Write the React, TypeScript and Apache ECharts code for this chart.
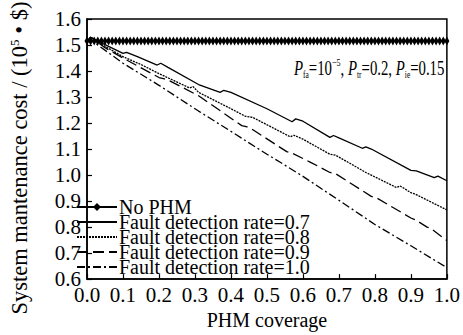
import React, { useEffect, useRef } from "react";
import * as echarts from "echarts";

const SERIES_NAMES = [
  "No PHM",
  "Fault detection rate=0.7",
  "Fault detection rate=0.8",
  "Fault detection rate=0.9",
  "Fault detection rate=1.0",
];

// No PHM: coverage points (every 0.01) and cost values
const NO_PHM_COVERAGE = [
  0.0, 0.01, 0.02, 0.03, 0.04, 0.05, 0.06, 0.07, 0.08, 0.09,
  0.1, 0.11, 0.12, 0.13, 0.14, 0.15, 0.16, 0.17, 0.18, 0.19,
  0.2, 0.21, 0.22, 0.23, 0.24, 0.25, 0.26, 0.27, 0.28, 0.29,
  0.3, 0.31, 0.32, 0.33, 0.34, 0.35, 0.36, 0.37, 0.38, 0.39,
  0.4, 0.41, 0.42, 0.43, 0.44, 0.45, 0.46, 0.47, 0.48, 0.49,
  0.5, 0.51, 0.52, 0.53, 0.54, 0.55, 0.56, 0.57, 0.58, 0.59,
  0.6, 0.61, 0.62, 0.63, 0.64, 0.65, 0.66, 0.67, 0.68, 0.69,
  0.7, 0.71, 0.72, 0.73, 0.74, 0.75, 0.76, 0.77, 0.78, 0.79,
  0.8, 0.81, 0.82, 0.83, 0.84, 0.85, 0.86, 0.87, 0.88, 0.89,
  0.9, 0.91, 0.92, 0.93, 0.94, 0.95, 0.96, 0.97, 0.98, 0.99,
  1.0,
];
const NO_PHM_COST = [
  1.515, 1.515, 1.515, 1.515, 1.515, 1.515, 1.515, 1.515, 1.515, 1.515,
  1.515, 1.515, 1.515, 1.515, 1.515, 1.515, 1.515, 1.515, 1.515, 1.515,
  1.515, 1.515, 1.515, 1.515, 1.515, 1.515, 1.515, 1.515, 1.515, 1.515,
  1.515, 1.515, 1.515, 1.515, 1.515, 1.515, 1.515, 1.515, 1.515, 1.515,
  1.515, 1.515, 1.515, 1.515, 1.515, 1.515, 1.515, 1.515, 1.515, 1.515,
  1.515, 1.515, 1.515, 1.515, 1.515, 1.515, 1.515, 1.515, 1.515, 1.515,
  1.515, 1.515, 1.515, 1.515, 1.515, 1.515, 1.515, 1.515, 1.515, 1.515,
  1.515, 1.515, 1.515, 1.515, 1.515, 1.515, 1.515, 1.515, 1.515, 1.515,
  1.515, 1.515, 1.515, 1.515, 1.515, 1.515, 1.515, 1.515, 1.515, 1.515,
  1.515, 1.515, 1.515, 1.515, 1.515, 1.515, 1.515, 1.515, 1.515, 1.515,
  1.515,
];

// [coverage, cost]
const RATE_07 = [
  [0, 1.515], [0.01, 1.53], [0.06, 1.495], [0.1, 1.468], [0.11, 1.472],
  [0.14, 1.455], [0.195, 1.423], [0.205, 1.43], [0.225, 1.414], [0.31, 1.348],
  [0.37, 1.318], [0.38, 1.326], [0.4, 1.318], [0.5, 1.255], [0.57, 1.205],
  [0.58, 1.216], [0.6, 1.207], [0.675, 1.145], [0.685, 1.152], [0.7, 1.143],
  [0.765, 1.103], [0.775, 1.108], [0.79, 1.1], [0.9, 1.018], [0.915, 1.016],
  [0.965, 0.99], [0.975, 0.996], [1.0, 0.978],
];
const RATE_08 = [
  [0, 1.515], [0.01, 1.53], [0.05, 1.495], [0.1, 1.455], [0.15, 1.425],
  [0.2, 1.39], [0.285, 1.335], [0.295, 1.34], [0.31, 1.318], [0.4, 1.255],
  [0.44, 1.226], [0.46, 1.222], [0.565, 1.147], [0.575, 1.153], [0.6, 1.138],
  [0.675, 1.08], [0.69, 1.077], [0.775, 1.01], [0.86, 0.952], [0.87, 0.958],
  [0.88, 0.95], [0.9, 0.932], [0.91, 0.928], [1.0, 0.866],
];
const RATE_09 = [
  [0, 1.515], [0.01, 1.53], [0.05, 1.49], [0.1, 1.45], [0.2, 1.375],
  [0.215, 1.37], [0.23, 1.362], [0.31, 1.305], [0.43, 1.19], [0.445, 1.185],
  [0.46, 1.175], [0.555, 1.09], [0.57, 1.084], [0.62, 1.05], [0.675, 1.01],
  [0.69, 1.006], [0.79, 0.918], [0.805, 0.912], [0.9, 0.835], [0.915, 0.826],
  [0.945, 0.8], [0.955, 0.795], [1.0, 0.748],
];
const RATE_10 = [
  [0, 1.515], [0.01, 1.52], [0.1, 1.43], [0.2, 1.345], [0.31, 1.246],
  [0.4, 1.168], [0.5, 1.08], [0.537, 1.049], [0.6, 0.995], [0.7, 0.903],
  [0.8, 0.81], [0.9, 0.728], [1.0, 0.644],
];

const FONT = "Liberation Serif";

export default function App() {
  const ref = useRef<HTMLDivElement>(null);
  useEffect(() => {
    if (!ref.current) return;
    const chart = echarts.init(ref.current, undefined, { renderer: "svg" });
    const noPhm = NO_PHM_COVERAGE.map((c, i) => [c, NO_PHM_COST[i]]);
    const lineBase = { type: "line", symbol: "none", showSymbol: false, silent: true };
    const hiddenMark = { color: "rgba(0,0,0,0)", borderWidth: 0, opacity: 0 };
    chart.setOption({
      animation: false,
      backgroundColor: "#fff",
      textStyle: { fontFamily: FONT },
      grid: {
        left: 73, right: 11, top: 19, bottom: 45,
        show: true, borderColor: "#000", borderWidth: 1.5,
      },
      legend: {
        orient: "vertical",
        left: 76,
        top: 197,
        padding: 0,
        itemGap: -5,
        itemWidth: 40,
        itemHeight: 10,
        data: [
          { name: SERIES_NAMES[0] },
          { name: SERIES_NAMES[1], itemStyle: hiddenMark },
          { name: SERIES_NAMES[2], itemStyle: hiddenMark },
          { name: SERIES_NAMES[3], itemStyle: hiddenMark },
          { name: SERIES_NAMES[4], itemStyle: hiddenMark },
        ],
        textStyle: {
          fontFamily: FONT, fontSize: 20, color: "#000",
          padding: [0, 0, 0, -3],
        },
      },
      xAxis: {
        type: "value", min: 0, max: 1, interval: 0.1,
        name: "PHM coverage", nameLocation: "middle", nameGap: 22,
        nameTextStyle: { fontFamily: FONT, fontSize: 20, color: "#000" },
        axisLine: { lineStyle: { color: "#000", width: 1.5 } },
        axisTick: { inside: true, length: 5, lineStyle: { color: "#000", width: 1.2 } },
        axisLabel: {
          fontFamily: FONT, fontSize: 21, color: "#000", margin: 5,
          formatter: (v: number) => v.toFixed(1),
        },
        splitLine: { show: false },
      },
      yAxis: {
        type: "value", min: 0.6, max: 1.6, interval: 0.1,
        name: "System mantenance cost / (10{sup|5} • $)",
        nameLocation: "middle", nameGap: 56, nameRotate: 90,
        nameTextStyle: {
          fontFamily: FONT, fontSize: 22.5, color: "#000",
          padding: [0, 18, 0, 0],
          rich: { sup: { fontFamily: FONT, fontSize: 13, color: "#000", verticalAlign: "top", padding: [0, 0, 7, 0] } },
        },
        axisLine: { show: true, lineStyle: { color: "#000", width: 1.5 } },
        axisTick: { show: true, inside: true, length: 5, lineStyle: { color: "#000", width: 1.2 } },
        axisLabel: {
          fontFamily: FONT, fontSize: 21, color: "#000", margin: 6,
          formatter: (v: number) => v.toFixed(1),
        },
        splitLine: { show: false },
      },
      graphic: [
        {
          type: "text",
          x: 294,
          y: 57,
          scaleX: 0.74,
          style: {
            text: "{p|P}{sub|fa}{n|=10}{sup|−5}{n|, }{p|P}{sub|tr}{n|=0.2, }{p|P}{sub|ie}{n|=0.15}",
            rich: {
              p: { fontFamily: FONT, fontSize: 20, fontStyle: "italic", fill: "#000", lineHeight: 23 },
              n: { fontFamily: FONT, fontSize: 20, fill: "#000", lineHeight: 23 },
              sub: { fontFamily: FONT, fontSize: 10, fill: "#000", verticalAlign: "bottom", lineHeight: 23 },
              sup: { fontFamily: FONT, fontSize: 11, fill: "#000", verticalAlign: "top", lineHeight: 23 },
            },
          },
        },
      ],
      series: [
        {
          name: SERIES_NAMES[0], type: "line", data: noPhm,
          symbol: "diamond", symbolSize: [5, 9], showSymbol: true,
          itemStyle: { color: "#000" },
          lineStyle: { color: "#000", width: 1.5 },
          silent: true,
        },
        { ...lineBase, name: SERIES_NAMES[1], data: RATE_07,
          itemStyle: { color: "#000" }, lineStyle: { color: "#000", width: 1.3, type: "solid" } },
        { ...lineBase, name: SERIES_NAMES[2], data: RATE_08,
          itemStyle: { color: "#000" }, lineStyle: { color: "#000", width: 1.3, type: [2, 1] } },
        { ...lineBase, name: SERIES_NAMES[3], data: RATE_09,
          itemStyle: { color: "#000" }, lineStyle: { color: "#000", width: 1.3, type: [11, 5] } },
        { ...lineBase, name: SERIES_NAMES[4], data: RATE_10,
          itemStyle: { color: "#000" }, lineStyle: { color: "#000", width: 1.3, type: [8, 3, 2, 3] } },
      ],
    });
    return () => chart.dispose();
  }, []);
  return <div ref={ref} style={{ width: 463, height: 335, position: "absolute", left: 0, top: 0 }} />;
}
